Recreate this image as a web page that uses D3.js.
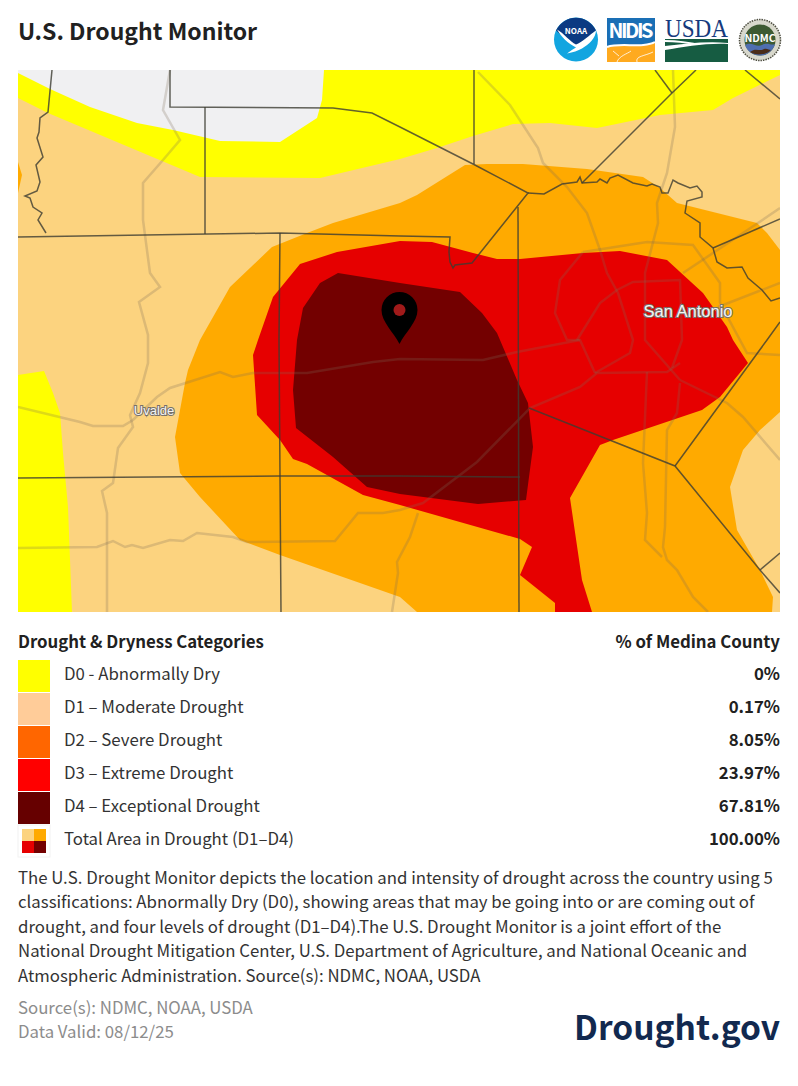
<!DOCTYPE html>
<html lang="en">
<head>
<meta charset="UTF-8">
<title>U.S. Drought Monitor</title>
<script src="https://d3js.org/d3.v7.min.js"></script>
<style>
    html, body { margin: 0; padding: 0; background: #fff; }
    svg { display: block; }
    text { font-family: "Noto Sans CJK SC", "Noto Sans", sans-serif; }
    .title { font-size: 23px; font-weight: 700; fill: #212121; }
    .head { font-size: 16.8px; font-weight: 700; fill: #212121; }
    .row { font-size: 16.8px; fill: #333; }
    .pct { font-size: 16.8px; font-weight: 700; fill: #212121; text-anchor: end; }
    .desc { font-size: 16.8px; fill: #333; }
    .foot { font-size: 16.8px; fill: #8c8c8c; }
    .brand { font-size: 33.5px; font-weight: 700; fill: #12294f; text-anchor: end; }
    .city { font-family: "Liberation Sans", Arial, sans-serif; fill: #f4f4f4; stroke: #77716a; stroke-width: 2px; paint-order: stroke; }
</style>
</head>
<body>
<div id="chart"></div>
<script>
    // legend table
    const categories = ["D0 - Abnormally Dry", "D1 – Moderate Drought", "D2 – Severe Drought",
        "D3 – Extreme Drought", "D4 – Exceptional Drought", "Total Area in Drought (D1–D4)"];
    const percents = ["0%", "0.17%", "8.05%", "23.97%", "67.81%", "100.00%"];
    const swatchColors = ["#ffff00", "#ffcc99", "#ff6600", "#ff0000", "#660000"];
    const mapColors = { d0: "#ffff00", d1: "#fcd37f", d2: "#ffaa00", d3: "#e60000", d4: "#730000", none: "#f0f0f2" };

    const descLines = [
        "The U.S. Drought Monitor depicts the location and intensity of drought across the country using 5",
        "classifications: Abnormally Dry (D0), showing areas that may be going into or are coming out of",
        "drought, and four levels of drought (D1–D4).The U.S. Drought Monitor is a joint effort of the",
        "National Drought Mitigation Center, U.S. Department of Agriculture, and National Oceanic and",
        "Atmospheric Administration. Source(s): NDMC, NOAA, USDA"
    ];

    // drought areas
    const d0Top = [[18,70],[780,70],[780,75],[733,98],[713,110],[660,115],[597,128],[550,123],[513,124],[473,136],[437,148],[400,159],[320,178],[200,177],[48,113],[18,98]];
    const noData = [[18,70],[324,70],[322,100],[317,118],[280,142],[220,141],[173,130],[137,123],[90,107],[50,89],[18,73]];
    const d0Left = [[18,375],[44,371],[53,393],[60,413],[63,453],[68,507],[72,612],[18,612]];
    const d2Sliver = [[18,162],[22,175],[18,193]];
    const d2Main = [[400,203],[417,195],[465,165],[487,164],[523,164],[587,169],[643,177],[660,188],[677,203],[757,223],[767,233],[780,250],[780,612],[417,612],[400,597],[280,555],[240,540],[200,497],[180,473],[175,437],[185,383],[188,370],[200,340],[230,287],[272,247],[307,233],[333,223]];
    const d1Right = [[780,412],[760,430],[743,450],[730,487],[737,530],[760,570],[773,597],[772,612],[780,612]];
    const d3Main = [[400,241],[337,252],[300,264],[273,297],[258,340],[253,355],[257,415],[280,440],[293,459],[307,464],[363,495],[400,505],[520,539],[532,547],[520,575],[555,603],[555,612],[592,612],[582,580],[570,498],[600,445],[613,440],[702,410],[720,397],[748,363],[733,340],[727,327],[703,293],[667,260],[620,251],[583,253],[520,259],[497,259],[473,253],[432,242]];
    const d4Main = [[338,273],[320,283],[303,308],[297,340],[293,390],[296,428],[333,457],[367,487],[400,494],[478,504],[526,500],[529,477],[533,447],[528,403],[517,380],[497,333],[482,313],[460,292],[400,283]];

    // county lines
    const counties = [
        [[52,70],[48,112],[40,118],[39,132],[37,138],[43,157],[36,165],[40,182],[37,191],[25,196],[30,198],[33,207],[42,213],[38,220],[46,233]],
        [[18,237],[280,233],[400,236],[450,237],[449,252],[450,262],[453,268],[455,265],[472,263],[480,253],[528,193],[473,164],[400,127],[372,113],[333,108],[170,107],[170,70]],
        [[205,107],[205,234]],
        [[280,233],[279,340],[281,612]],
        [[18,478],[280,476],[400,476],[520,477]],
        [[474,70],[474,164]],
        [[518,207],[519,612]],
        [[528,193],[544,194],[562,184],[577,182],[580,177],[582,183],[597,182],[600,179],[607,183],[610,178],[618,175],[633,183],[647,186],[652,184],[660,187],[662,193],[668,193],[673,180],[678,183],[690,188],[697,186],[702,192],[702,197],[687,201],[685,213],[700,223],[700,237],[713,248],[717,262],[727,268],[742,267],[748,278],[762,290],[771,301],[780,298]],
        [[582,183],[672,93],[696,70]],
        [[655,70],[672,93]],
        [[745,70],[780,99]],
        [[713,248],[780,219]],
        [[780,322],[767,340],[675,466]],
        [[529,408],[675,466],[760,570],[780,593]],
        [[760,570],[780,553]]
    ];

    // highways, faint under the county lines
    const roads = [
        [[170,70],[163,110],[180,140],[163,160],[143,183],[143,220],[150,273],[160,287],[139,302],[148,335],[148,363],[140,393],[130,415],[133,427],[118,448],[113,483],[102,491],[107,513],[107,612]],
        [[18,407],[80,422],[93,426],[123,426],[133,420],[157,397],[170,388],[220,372],[233,377],[253,373],[307,373],[373,362],[400,359],[483,360],[517,352],[580,340]],
        [[18,548],[97,547],[113,541],[125,547],[132,545],[143,548],[170,540],[183,541],[197,533],[233,537],[247,542],[335,541],[358,513],[383,513],[400,510],[423,503],[477,462],[530,408],[580,387],[597,373],[667,372],[680,363]],
        [[418,513],[410,537],[397,562],[398,573],[392,612]],
        [[647,372],[643,463],[647,513],[645,540],[662,557]],
        [[680,383],[677,413],[667,430],[665,527],[663,547],[667,560],[677,570],[693,597],[708,612]],
        [[680,380],[727,403],[743,417],[780,460]],
        [[720,303],[747,353],[780,355]],
        [[478,72],[510,105],[538,148],[543,163],[567,187],[587,213],[600,250],[607,273],[618,293],[633,340],[630,353],[595,373]],
        [[673,70],[675,127],[667,173],[657,203],[658,223],[645,273],[645,340],[680,380]],
        [[583,252],[647,242],[693,245],[720,283],[720,303]],
        [[583,252],[560,280],[555,313],[567,340],[580,340],[595,373]],
        [[577,340],[600,303],[617,290],[633,282],[680,280],[682,340],[672,368]],
        [[683,273],[758,223],[780,208]],
        [[718,307],[780,283]]
    ];

    const cities = [
        { name: "San Antonio", x: 688, y: 311, size: 16.5 },
        { name: "Uvalde", x: 154, y: 410, size: 13 }
    ];
    const pin = { x: 399.5, y: 344 };

    const width = 798, height = 1086;
    const mapLeft = 18, mapTop = 70, mapWidth = 762, mapHeight = 542;

    const svg = d3.select("#chart").append("svg")
        .attr("width", width)
        .attr("height", height);

    svg.append("text").attr("class", "title").attr("x", 18).attr("y", 40).text("U.S. Drought Monitor");

    // logos --------------------------------------------------
    const noaa = svg.append("g").attr("transform", "translate(576,39.5)");
    noaa.append("circle").attr("r", 22).attr("fill", "#12a5e0");
    noaa.append("path").attr("fill", "#0b3a82")
        .attr("d", "M-20,-9 A22,22 0 0 1 20,-9 C14,-4 8,3 0,6 C-8,3 -14,-4 -20,-9Z");
    noaa.append("path").attr("fill", "#fff")
        .attr("d", "M-19,-10 C-12,-6 -6,2 0,5 C6,3 14,-5 20,-9 C20,-2 13,5 6,9 C2,11 -3,13 -9,14 C-5,11 -2,9 0,8 C-8,4 -15,-3 -19,-10Z");
    noaa.append("text").attr("y", -6).attr("text-anchor", "middle")
        .style("font-size", "8px").style("font-weight", 700).attr("fill", "#fff").text("NOAA");

    const nidis = svg.append("g").attr("transform", "translate(607,18)");
    nidis.append("rect").attr("width", 48).attr("height", 44).attr("fill", "#ffaa1f");
    nidis.append("path").attr("fill", "#1a6fb5").attr("d", "M0,0H48V24C36,31 14,24 0,29Z");
    nidis.append("path").attr("fill", "none").attr("stroke", "#fff").attr("stroke-width", 2).attr("d", "M0,29C14,24 36,31 48,24");
    nidis.append("path").attr("fill", "none").attr("stroke", "#fff").attr("stroke-width", 0.8)
        .attr("d", "M10,44C12,38 20,36 24,33M30,44C28,38 38,38 46,34M6,33L12,38");
    nidis.append("text").attr("x", 24).attr("y", 20).attr("text-anchor", "middle")
        .style("font-size", "20px").style("font-weight", 700).attr("fill", "#fff").attr("textLength", 45).text("NIDIS");

    const usda = svg.append("g").attr("transform", "translate(665,18)");
    usda.append("text").attr("x", 31.5).attr("y", 18.5).attr("text-anchor", "middle")
        .style("font-family", "'Liberation Serif', serif").style("font-size", "26px").attr("fill", "#163a7d")
        .attr("textLength", 63).attr("lengthAdjust", "spacingAndGlyphs").text("USDA");
    usda.append("path").attr("fill", "#165c42").attr("d", "M0,21C20,21 45,21 63,21V44H0Z");
    usda.append("path").attr("fill", "#fff").attr("d", "M0,28C20,26 40,23 63,25V26C40,25 20,29 0,32Z");
    usda.append("path").attr("fill", "#fff").attr("d", "M0,22C12,22 24,24 36,26L30,27C20,25 10,24 0,24Z");

    const ndmc = svg.append("g").attr("transform", "translate(760,40)");
    ndmc.append("circle").attr("r", 20.5).attr("fill", "#d8d8cc").attr("stroke", "#4d4d40").attr("stroke-width", 1.5).attr("stroke-dasharray", "1.5 1");
    ndmc.append("circle").attr("r", 15.5).attr("fill", "#3d5a32");
    ndmc.append("path").attr("fill", "#4f6fb0").attr("d", "M-15,5C-8,1 -4,8 2,5C8,2 11,6 15,4C13,11 7,15.5 0,15.5C-7,15.5 -13,11 -15,5Z");
    ndmc.append("path").attr("fill", "#4a2c18").attr("d", "M-10,12C-4,7 0,12 4,9C7,8 9,10 11,10C7,15 -5,16 -10,12Z");
    ndmc.append("text").attr("y", 2).attr("text-anchor", "middle")
        .style("font-size", "10.5px").style("font-weight", 700).attr("fill", "#fff").text("NDMC");

    // map ----------------------------------------------------
    const x = d3.scaleLinear().domain([mapLeft, mapLeft + mapWidth]).range([0, mapWidth]);
    const y = d3.scaleLinear().domain([mapTop, mapTop + mapHeight]).range([0, mapHeight]);
    const line = d3.line().x(d => x(d[0])).y(d => y(d[1]));

    svg.append("clipPath").attr("id", "map-clip")
        .append("rect").attr("width", mapWidth).attr("height", mapHeight);

    const map = svg.append("g")
        .attr("transform", `translate(${mapLeft},${mapTop})`)
        .attr("clip-path", "url(#map-clip)");

    map.append("rect").attr("width", mapWidth).attr("height", mapHeight).attr("fill", mapColors.d1);

    const areas = [
        [d0Top, mapColors.d0], [noData, mapColors.none], [d0Left, mapColors.d0], [d2Sliver, mapColors.d2],
        [d2Main, mapColors.d2], [d1Right, mapColors.d1], [d3Main, mapColors.d3], [d4Main, mapColors.d4]
    ];
    map.selectAll("path.area")
        .data(areas)
        .join("path")
        .attr("class", "area")
        .attr("d", d => line(d[0]) + "Z")
        .attr("fill", d => d[1]);

    map.selectAll("path.road")
        .data(roads)
        .join("path")
        .attr("class", "road")
        .attr("d", line)
        .attr("fill", "none")
        .attr("stroke", "#7d6a58")
        .attr("stroke-opacity", 0.25)
        .attr("stroke-width", 2.5);

    map.selectAll("path.county")
        .data(counties)
        .join("path")
        .attr("class", "county")
        .attr("d", line)
        .attr("fill", "none")
        .attr("stroke", "#3c3c32")
        .attr("stroke-opacity", 0.8)
        .attr("stroke-width", 1.5);

    map.selectAll("text.city")
        .data(cities)
        .join("text")
        .attr("class", "city")
        .attr("x", d => x(d.x))
        .attr("y", d => y(d.y))
        .attr("text-anchor", "middle")
        .attr("dominant-baseline", "central")
        .style("font-size", d => d.size + "px")
        .text(d => d.name);

    const marker = map.append("g").attr("transform", `translate(${x(pin.x)},${y(pin.y)})`);
    marker.append("path").attr("fill", "#000")
        .attr("d", "M0,0C-6,-12 -18,-22 -18,-34A18,18 0 1 1 18,-34C18,-22 6,-12 0,0Z");
    marker.append("circle").attr("cy", -34).attr("r", 6).attr("fill", "#a01a1a");

    // legend -------------------------------------------------
    svg.append("text").attr("class", "head").attr("x", 18).attr("y", 648).text("Drought & Dryness Categories");
    svg.append("text").attr("class", "pct").attr("x", 780).attr("y", 648).text("% of Medina County");

    const rowY = d3.scaleBand().domain(categories).range([660, 858]);

    const rows = svg.selectAll("g.legend-row")
        .data(categories)
        .join("g")
        .attr("class", "legend-row")
        .attr("transform", d => `translate(0,${rowY(d)})`);

    rows.filter((d, i) => i < swatchColors.length)
        .append("rect")
        .attr("x", 18)
        .attr("width", 32)
        .attr("height", rowY.bandwidth() - 1)
        .attr("fill", (d, i) => swatchColors[i]);

    rows.append("text").attr("class", "row")
        .attr("x", 64)
        .attr("y", rowY.bandwidth() / 2 + 3.5)
        .text(d => d);

    rows.append("text").attr("class", "pct")
        .attr("x", 780)
        .attr("y", rowY.bandwidth() / 2 + 3.5)
        .text((d, i) => percents[i]);

    // the little four colour square on the total row
    const totalRow = rows.filter((d, i) => i === categories.length - 1);
    totalRow.append("rect").attr("x", 18).attr("width", 32).attr("height", 32)
        .attr("fill", "#fff").attr("stroke", "#f2f2f2");
    [mapColors.d1, mapColors.d2, mapColors.d3, mapColors.d4].forEach((c, i) => {
        totalRow.append("rect")
            .attr("x", 22 + (i % 2) * 12)
            .attr("y", 4 + Math.floor(i / 2) * 12)
            .attr("width", 12).attr("height", 12)
            .attr("fill", c);
    });

    // description and footer
    svg.selectAll("text.desc")
        .data(descLines)
        .join("text")
        .attr("class", "desc")
        .attr("x", 18)
        .attr("y", (d, i) => 884 + i * 24.4)
        .text(d => d);

    svg.append("text").attr("class", "foot").attr("x", 18).attr("y", 1014).text("Source(s): NDMC, NOAA, USDA");
    svg.append("text").attr("class", "foot").attr("x", 18).attr("y", 1038).text("Data Valid: 08/12/25");
    svg.append("text").attr("class", "brand").attr("x", 780).attr("y", 1040).text("Drought.gov");
</script>
</body>
</html>
